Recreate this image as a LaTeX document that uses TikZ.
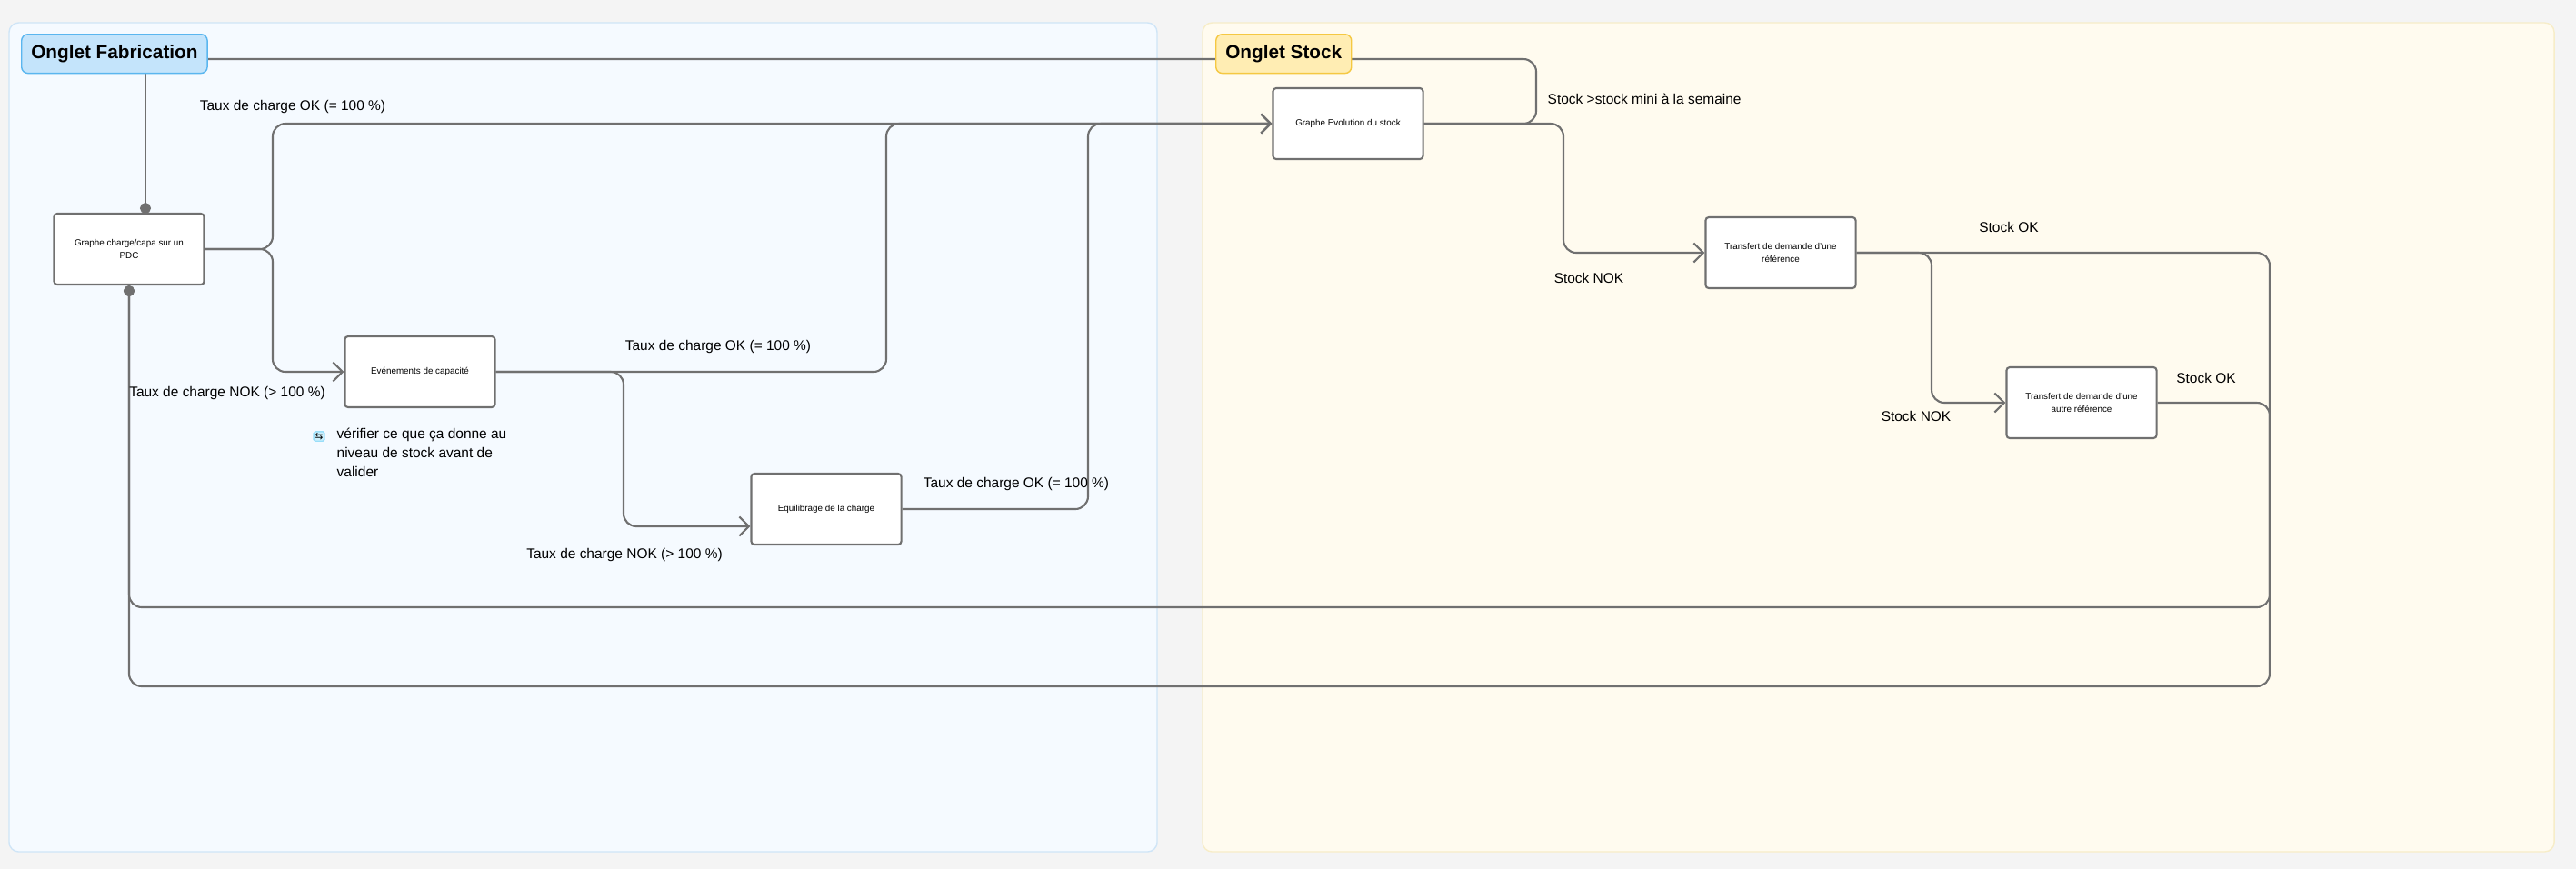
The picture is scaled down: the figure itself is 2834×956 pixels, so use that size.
\documentclass[tikz,border=0pt]{standalone}
\usepackage{fontspec}
\setmainfont{Liberation Sans}
\newfontfamily\symfont{DejaVu Sans}
\usetikzlibrary{arrows.meta,positioning}
\definecolor{canvas}{HTML}{F4F4F4}
\definecolor{fabfill}{HTML}{F5FAFF}
\definecolor{fabline}{HTML}{CFE5F7}
\definecolor{stofill}{HTML}{FFFBEF}
\definecolor{stoline}{HTML}{F7EDC8}
\definecolor{fabtag}{HTML}{C4E4FB}
\definecolor{fabtagline}{HTML}{5AB6EF}
\definecolor{stotag}{HTML}{FFEDB3}
\definecolor{stotagline}{HTML}{F5C842}
\definecolor{wire}{HTML}{707070}
\tikzset{
  stepbox/.style={draw=wire,line width=0.6pt,fill=white,rounded corners=1pt,minimum width=1.65cm,minimum height=0.78cm,align=center,font=\fontsize{2.8}{4.2}\selectfont,inner sep=1pt},
  tag/.style={rounded corners=2pt,line width=0.4pt,minimum height=0.36cm,inner xsep=3pt,font=\fontsize{5.9}{7}\selectfont\bfseries},
  link/.style={draw=wire,line width=0.6pt,rounded corners=4pt},
  flow/.style={link,-{Straight Barb[length=3pt,width=6pt]}},
  dot/.style={link,-{Circle[length=3.4pt]}},
  lbl/.style={font=\fontsize{4.4}{5.4}\selectfont,inner sep=0pt}
}
\begin{document}
\begin{tikzpicture}[x=0.01cm,y=-0.01cm]
	% canvas and the two tabs
	\fill[canvas] (0,0) rectangle (2834,956);
	\draw[fabline,fill=fabfill,rounded corners=3pt] (10,25) rectangle (1273,937);
	\draw[stoline,fill=stofill,rounded corners=3pt] (1323,25) rectangle (2810,937);

	% steps
	\node[stepbox] (pdc) at (142,274) {Graphe charge/capa sur un\\PDC};
	\node[stepbox] (evt) at (462,409) {Evénements de capacité};
	\node[stepbox] (equi) at (909,560) {Equilibrage de la charge};
	\node[stepbox] (sg) at (1483,136) {Graphe Evolution du stock};
	\node[stepbox] (t1) at (1959,278) {Transfert de demande d'une\\référence};
	\node[stepbox] (t2) at (2290,443) {Transfert de demande d'une\\autre référence};
	\coordinate (pdctop) at (160,235);
	\coordinate (back) at (1690,65);

	% connectors
	\draw[dot] (pdctop |- 0,73) -- (pdctop);
	\draw[link] (sg.east) -- (back |- sg.east) -- (back) -- (200,65);
	\draw[flow] (pdc.east) -- (300,274) -- (300,136) -- (sg.west);
	\draw[flow] (pdc.east) -- (300,274) -- (300,409) -- (evt.west);
	\draw[flow] (evt.east) -- (975,409) -- (975,136) -- (sg.west);
	\draw[flow] (evt.east) -- (686,409) -- (686,579) -- ([yshift=-0.19cm]equi.west);
	\draw[flow] (equi.east) -- (1197,560) -- (1197,136) -- (sg.west);
	\draw[flow] (sg.east) -- (1720,136) -- (1720,278) -- (t1.west);
	\draw[flow] (t1.east) -- (2125,278) -- (2125,443) -- (t2.west);
	\draw[dot] (t1.east) -- (2497,278) -- (2497,755) -- (142,755) -- (pdc.south);
	\draw[dot] (t2.east) -- (2497,443) -- (2497,668) -- (142,668) -- (pdc.south);

	% tab titles, on top of the wires
	\node[tag,fill=fabtag,draw=fabtagline,anchor=north west] (fab) at (23,37) {Onglet Fabrication};
	\node[tag,fill=stotag,draw=stotagline,anchor=north west] (sto) at (1337,37) {Onglet Stock};

	% labels
	\node[lbl] (l1) at (322,117) {Taux de charge OK (= 100 \%)};
	\node[lbl] (l2) at (250,432) {Taux de charge NOK (> 100 \%)};
	\node[lbl] (l3) at (790,381) {Taux de charge OK (= 100 \%)};
	\node[lbl] (l4) at (687,610) {Taux de charge NOK (> 100 \%)};
	\node[lbl] (l5) at (1118,532) {Taux de charge OK (= 100 \%)};
	\node[lbl,anchor=west] (l6) at (1702,109) {Stock >stock mini à la semaine};
	\node[lbl] (l7) at (1748,306) {Stock NOK};
	\node[lbl] (l8) at (2210,250) {Stock OK};
	\node[lbl] (l9) at (2108,458) {Stock NOK};
	\node[lbl] (l10) at (2427,416) {Stock OK};
	\node[fill=cyan!20,draw=cyan!40,rounded corners=0.5pt,inner sep=0.4pt,font=\symfont\fontsize{3}{3}\selectfont] (ico) at (351,480) {⇆};
	\node[lbl,anchor=north west,align=left,font=\fontsize{4.4}{6}\selectfont] (note) at (370,470) {vérifier ce que ça donne au\\niveau de stock avant de\\valider};
\end{tikzpicture}
\end{document}
